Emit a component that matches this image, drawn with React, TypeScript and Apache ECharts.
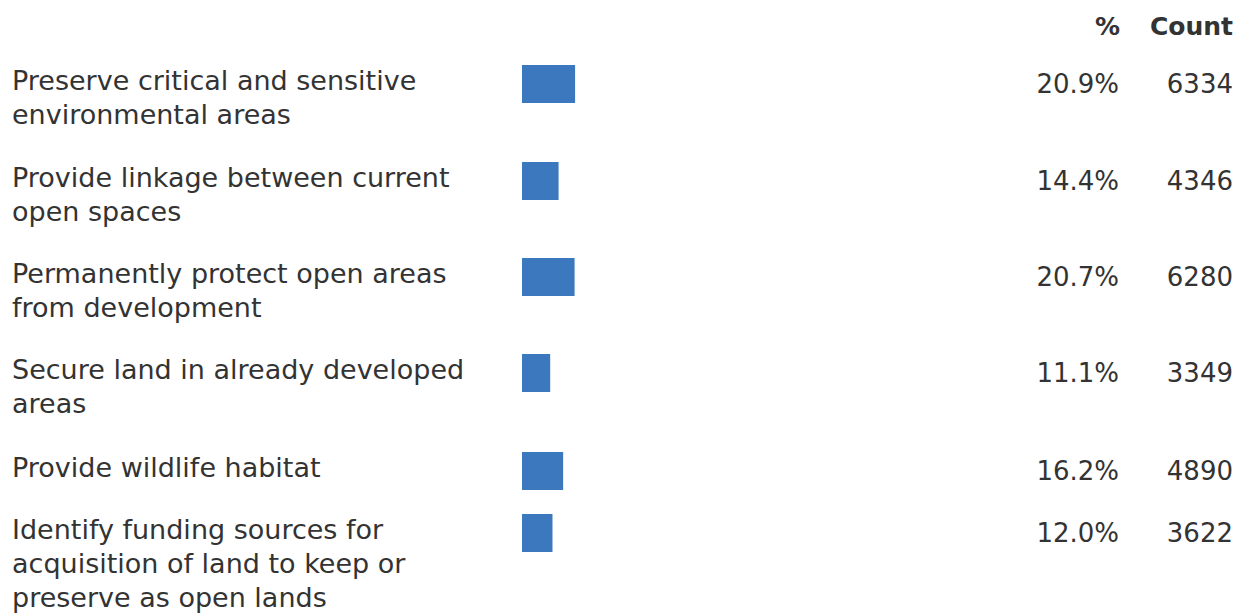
import React, { useEffect, useRef } from "react";
import * as echarts from "echarts";

const categories = [
  "Preserve critical and sensitive\nenvironmental areas",
  "Provide linkage between current\nopen spaces",
  "Permanently protect open areas\nfrom development",
  "Secure land in already developed\nareas",
  "Provide wildlife habitat",
  "Identify funding sources for\nacquisition of land to keep or\npreserve as open lands",
];
const percents = [20.9, 14.4, 20.7, 11.1, 16.2, 12.0];
const counts = [6334, 4346, 6280, 3349, 4890, 3622];
const headers = ["%", "Count"];

// layout (pixels)
const rowTops = [65, 162, 258, 354, 452, 514];
const barH = 38;
const labelShift = 4;
const plotLeft = 522;
const plotWidth = 254;
const pctRight = 1119;
const countRight = 1233;
const textColor = "#333333";
const barColor = "#3b78be";
const font = "'DejaVu Sans', sans-serif";

export default function App() {
  const ref = useRef<HTMLDivElement>(null);
  useEffect(() => {
    document.body.style.margin = "0";
    if (!ref.current) return;
    const chart = echarts.init(ref.current, undefined, { renderer: "svg" });
    const grids: any[] = [];
    const xAxes: any[] = [];
    const yAxes: any[] = [];
    const series: any[] = [];
    const hiddenAxis = {
      axisLine: { show: false },
      axisTick: { show: false },
      splitLine: { show: false },
    };
    const n = categories.length;
    // bar grids 0..n-1, label grids n..2n-1
    categories.forEach((cat, i) => {
      grids.push({
        left: plotLeft,
        width: plotWidth,
        top: rowTops[i],
        height: barH,
        outerBoundsMode: "none",
      });
    });
    categories.forEach((cat, i) => {
      grids.push({
        left: plotLeft,
        width: plotWidth,
        top: rowTops[i] - labelShift,
        height: barH,
        outerBoundsMode: "none",
      });
    });
    for (let g = 0; g < 2 * n; g++) {
      xAxes.push({ gridIndex: g, type: "value", min: 0, max: 100, show: false });
    }
    categories.forEach((cat, i) => {
      // bar axis carrying the percent labels on the right
      yAxes.push({
        gridIndex: i,
        type: "category",
        position: "right",
        data: [percents[i].toFixed(1) + "%"],
        ...hiddenAxis,
        axisLabel: {
          align: "right",
          verticalAlign: "middle",
          margin: pctRight - (plotLeft + plotWidth),
          fontSize: 26,
          color: textColor,
          fontFamily: font,
        },
      });
      yAxes.push({
        gridIndex: i,
        type: "category",
        position: "right",
        data: [String(counts[i])],
        ...hiddenAxis,
        axisLabel: {
          align: "right",
          verticalAlign: "middle",
          margin: countRight - (plotLeft + plotWidth),
          fontSize: 26,
          color: textColor,
          fontFamily: font,
        },
      });
      yAxes.push({
        gridIndex: n + i,
        type: "category",
        data: [cat],
        ...hiddenAxis,
        axisLabel: {
          align: "left",
          verticalAlign: "middle",
          margin: plotLeft - 12,
          fontSize: 27,
          lineHeight: 34,
          color: textColor,
          fontFamily: font,
          formatter: (v: string) => "\n".repeat(v.split("\n").length - 1) + v,
        },
      });
      series.push({
        type: "bar",
        xAxisIndex: i,
        yAxisIndex: i * 3,
        data: [percents[i]],
        barCategoryGap: "0%",
        itemStyle: { color: barColor },
        silent: true,
      });
    });
    const headerRights = [pctRight + 1, countRight];
    chart.setOption({
      animation: false,
      textStyle: { fontFamily: font },
      grid: grids,
      xAxis: xAxes,
      yAxis: yAxes,
      series,
      graphic: headers.map((h, i) => ({
        type: "text",
        x: headerRights[i],
        y: 26,
        style: {
          text: h,
          align: "right",
          verticalAlign: "middle",
          fontSize: 25,
          fontWeight: "bold",
          fontFamily: font,
          fill: textColor,
        },
      })),
    });
    return () => chart.dispose();
  }, []);
  return <div ref={ref} style={{ width: 1242, height: 616 }} />;
}
